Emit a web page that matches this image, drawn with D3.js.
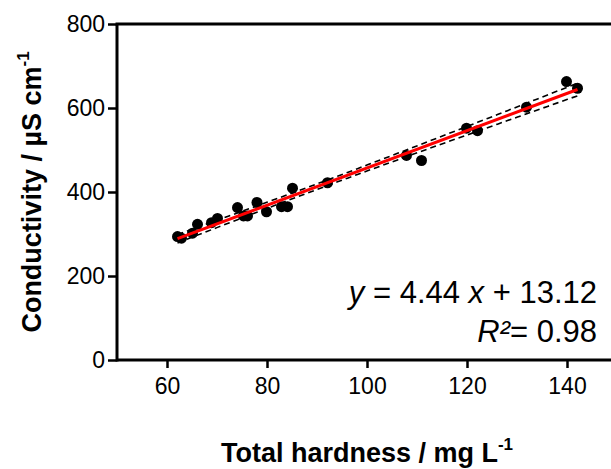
<!DOCTYPE html>
<html>
<head>
<meta charset="utf-8">
<script src="https://cdn.jsdelivr.net/npm/d3@7"></script>
<style>
  body { margin: 0; background: #fff; }
  text { font-family: "Liberation Sans", Arial, sans-serif; }
</style>
</head>
<body>
<svg id="chart" width="611" height="469"></svg>
<script>
// values
const hardness = [62.1, 62.9, 65.1, 66.1, 68.9, 70.1, 74.1, 75.3, 76.1, 78.0, 79.9,
  82.9, 84.1, 85.1, 92.1, 107.9, 110.9, 119.9, 122.1, 131.9, 139.9, 142.1];
const conductivity = [294, 290, 302, 323, 327, 337, 363, 343, 343, 375, 353,
  365, 365, 409, 422, 487, 475, 552, 546, 602, 663, 647];
const xTicks = [60, 80, 100, 120, 140];
const yTicks = [0, 200, 400, 600, 800];
const slope = 4.44, intercept = 13.12, rSquared = 0.98;

const svg = d3.select("#chart");
const margin = { left: 117, top: 24, right: -6, bottom: 109 };
const width = 611 - margin.left - margin.right;
const height = 469 - margin.top - margin.bottom;

const x = d3.scaleLinear().domain([50, 150]).range([margin.left, margin.left + width]);
const y = d3.scaleLinear().domain([0, 800]).range([margin.top + height, margin.top]);

const points = hardness.map((h, i) => ({ x: h, y: conductivity[i] }));

// 95% confidence band of the fit
const n = points.length;
const xMean = d3.mean(hardness);
const sxx = d3.sum(hardness, (h) => (h - xMean) ** 2);
const sse = d3.sum(points, (p) => (p.y - (slope * p.x + intercept)) ** 2);
const s = Math.sqrt(sse / (n - 2));
const tValue = 2.086;
const xs = d3.range(0, 41).map((i) => d3.min(hardness) + (i / 40) * (d3.max(hardness) - d3.min(hardness)));
const half = (v) => tValue * s * Math.sqrt(1 / n + (v - xMean) ** 2 / sxx);

const line = d3.line().x((d) => x(d[0])).y((d) => y(d[1]));

[1, -1].forEach((sign) => {
  svg.append("path")
    .attr("d", line(xs.map((v) => [v, slope * v + intercept + sign * half(v)])))
    .attr("fill", "none")
    .attr("stroke", "#000")
    .attr("stroke-width", 1.6)
    .attr("stroke-dasharray", "6,4");
});

svg.selectAll("circle")
  .data(points)
  .enter()
  .append("circle")
  .attr("cx", (d) => x(d.x))
  .attr("cy", (d) => y(d.y))
  .attr("r", 5.5)
  .attr("fill", "#000");

const ext = d3.extent(hardness);
svg.append("path")
  .attr("d", line(ext.map((v) => [v, slope * v + intercept])))
  .attr("stroke", "#ff0000")
  .attr("stroke-width", 3)
  .attr("fill", "none");

// axes
const xAxis = svg.append("g")
  .attr("transform", `translate(0,${margin.top + height})`)
  .call(d3.axisBottom(x).tickValues(xTicks).tickSize(8).tickPadding(10));
const yAxis = svg.append("g")
  .attr("transform", `translate(${margin.left},0)`)
  .call(d3.axisLeft(y).tickValues(yTicks).tickSize(9).tickPadding(3));

[xAxis, yAxis].forEach((g) => {
  g.select(".domain").attr("stroke-width", 3);
  g.selectAll(".tick line").attr("stroke-width", 2.5);
  g.selectAll(".tick text")
    .attr("font-family", "'Liberation Sans', Arial, sans-serif")
    .attr("font-size", 23)
    .attr("fill", "#000");
});
xAxis.select(".domain").attr("d", `M${margin.left},0H${margin.left + width}`);
yAxis.select(".domain").attr("d", `M0,${margin.top}V${margin.top + height + 1.5}`);

// top border of the frame
svg.append("line")
  .attr("x1", margin.left - 1.5).attr("x2", margin.left + width)
  .attr("y1", margin.top).attr("y2", margin.top)
  .attr("stroke", "#000").attr("stroke-width", 3);

// axis titles
const xTitle = svg.append("text")
  .attr("x", 367).attr("y", 462)
  .attr("text-anchor", "middle")
  .attr("font-size", 27).attr("font-weight", "bold");
xTitle.append("tspan").text("Total hardness / mg L");
xTitle.append("tspan").attr("font-size", 17).attr("dy", -12).text("-1");

const yTitle = svg.append("text")
  .attr("transform", `translate(41,192) rotate(-90)`)
  .attr("text-anchor", "middle")
  .attr("font-size", 27).attr("font-weight", "bold");
yTitle.append("tspan").text("Conductivity / µS cm");
yTitle.append("tspan").attr("font-size", 17).attr("dy", -12).text("-1");

// fit annotation
const eq = svg.append("text")
  .attr("x", 597).attr("y", 303)
  .attr("text-anchor", "end")
  .attr("font-size", 31);
eq.append("tspan").attr("font-style", "italic").text("y");
eq.append("tspan").text(` = ${slope.toFixed(2)} `);
eq.append("tspan").attr("font-style", "italic").text("x");
eq.append("tspan").text(` + ${intercept.toFixed(2)}`);

const r2 = svg.append("text")
  .attr("x", 597).attr("y", 342)
  .attr("text-anchor", "end")
  .attr("font-size", 31);
r2.append("tspan").attr("font-style", "italic").text("R²");
r2.append("tspan").text(`= ${rSquared.toFixed(2)}`);
</script>
</body>
</html>
